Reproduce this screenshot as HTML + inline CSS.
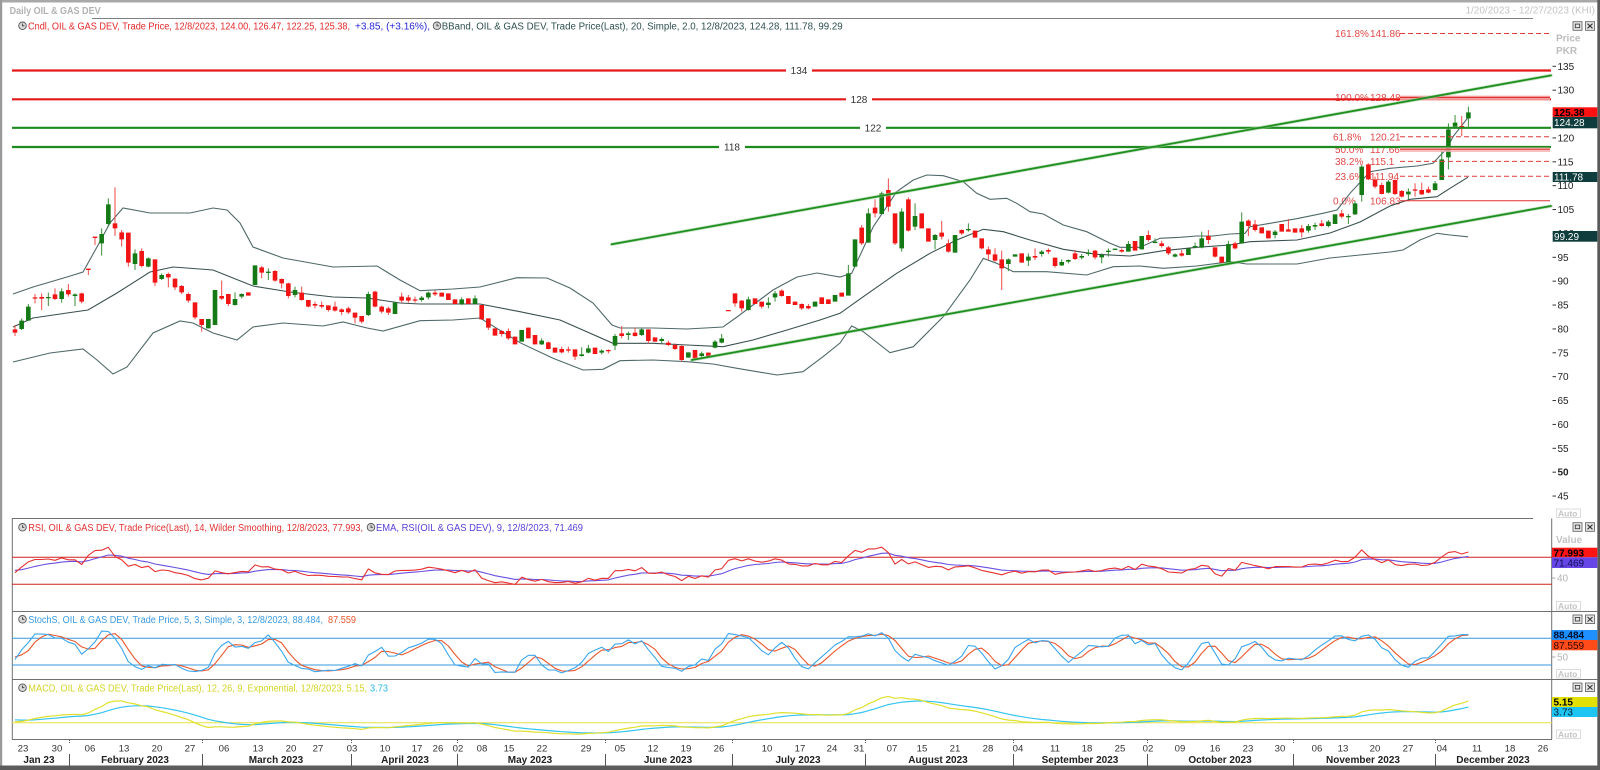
<!DOCTYPE html>
<html><head><meta charset="utf-8">
<style>
html,body{margin:0;padding:0;background:#fff;overflow:hidden;}
svg{display:block;font-family:"Liberation Sans",Arial,sans-serif;}
</style></head>
<body>
<svg id="s" width="1600" height="770" viewBox="0 0 1600 770" xmlns="http://www.w3.org/2000/svg">
<defs>
<clipPath id="cm"><rect x="12" y="19" width="1540" height="499"/></clipPath>
<clipPath id="cr"><rect x="12" y="519" width="1540" height="91"/></clipPath>
<clipPath id="cs"><rect x="12" y="612" width="1540" height="66"/></clipPath>
<clipPath id="cd"><rect x="12" y="680" width="1540" height="58"/></clipPath>
</defs>
<rect width="1600" height="770" fill="#fff"/>

<!-- frame -->
<rect x="0" y="0" width="1600" height="2.5" fill="#a8a8a8"/>
<rect x="0" y="0" width="2.2" height="770" fill="#9a9a9a"/>
<rect x="1597.3" y="0" width="2.7" height="770" fill="#5a5a5a"/>
<rect x="0" y="765.5" width="1600" height="4.5" fill="#5c5c5c"/>

<!-- header -->
<text x="9.6" y="14" font-size="10" font-weight="bold" fill="#b2b2b2" textLength="91" lengthAdjust="spacingAndGlyphs">Daily OIL &amp; GAS DEV</text>
<text x="1595" y="13.5" font-size="10" fill="#c4c4c4" text-anchor="end">1/20/2023 - 12/27/2023 (KHI)</text>
<line x1="92" y1="18.5" x2="1533" y2="18.5" stroke="#808080" stroke-width="1"/>

<!-- main legend -->
<g>
<circle cx="22.5" cy="25.8" r="3.8" fill="#d8d8d8" stroke="#555" stroke-width="0.9"/>
<path d="M22.5 23.6V25.8H24.3" stroke="#333" stroke-width="0.8" fill="none"/>
<text x="28" y="29.5" font-size="10" fill="#e62828" textLength="322" lengthAdjust="spacingAndGlyphs">Cndl, OIL &amp; GAS DEV, Trade Price,  12/8/2023, 124.00, 126.47, 122.25, 125.38,</text>
<text x="355" y="29.5" font-size="10" fill="#2828d8" textLength="75" lengthAdjust="spacingAndGlyphs">+3.85, (+3.16%),</text>
<circle cx="437" cy="25.8" r="3.8" fill="#d8d8d8" stroke="#555" stroke-width="0.9"/>
<path d="M437 23.6V25.8H438.8" stroke="#333" stroke-width="0.8" fill="none"/>
<text x="441.7" y="29.5" font-size="10" fill="#2f4f4f" textLength="401" lengthAdjust="spacingAndGlyphs">BBand, OIL &amp; GAS DEV, Trade Price(Last),  20, Simple, 2.0, 12/8/2023, 124.28, 111.78, 99.29</text>
</g>

<!-- fib labels -->
<g font-size="10" fill="#e04848">
<text x="1335" y="37">161.8%</text><text x="1370" y="37">141.86</text>
<text x="1335" y="101">100.0%</text><text x="1370" y="101">128.48</text>
<text x="1333" y="140.5">61.8%</text><text x="1370" y="140.5">120.21</text>
<text x="1335" y="152.8">50.0%</text><text x="1370" y="152.8">117.66</text>
<text x="1335" y="165">38.2%</text><text x="1370" y="165">115.1</text>
<text x="1335" y="180">23.6%</text><text x="1370" y="180">111.94</text>
<text x="1333" y="204.5">0.0%</text><text x="1370" y="204.5">106.83</text>
</g>

<!-- Bollinger bands -->
<g fill="none" stroke="#4f6868" stroke-width="1.1" clip-path="url(#cm)">
<polyline points="13,294 33,287 67,277 83,272 97,247 110,223 123,208 150,213 190,213 213,208 227,210 240,223 253,247 283,258 333,267 377,266 400,280 420,290.7 453,289 480,287 517,277.7 547,278 570,288 593,303 612,325 620,328 653,328 687,329 723,327 737,317 753,305 773,290 797,277 817,273 840,277 851.7,273.3 873.3,226.7 896.7,191.7 913.3,180 926.7,175 943.3,175.7 963.3,181.7 976.7,193.3 990,199.3 1006.7,198.3 1016.7,203.3 1030,211.7 1043.3,214 1063.3,225 1086.7,231.7 1110,243.3 1120,247.3 1140,247.3 1160,238.3 1180,237.3 1196.7,236 1213.3,236 1230,234 1245,233.3 1250,226.7 1270,223.3 1296.7,218.7 1323,213.3 1337,210 1350,193.3 1370,171.7 1390,168.3 1417,166 1433,163.3 1447,148.3 1453,136.7 1468,117.5"/>
<polyline stroke="#3a5050" points="13,327 33,318 67,313 88,310 117,293 150,272 173,267 213,270 253,286 290,292 333,297 367,298 400,303 420,304 480,304 520,311.7 560,320 613,343.3 653,343.3 687,345 723,346.7 753,340 787,330 820,320 840,313.3 863.3,296.7 896.7,273.3 930,253.3 956.7,240 983.3,229.3 1003.3,231.7 1030,240 1063.3,249.3 1096.7,254.3 1130,256 1163.3,250.7 1196.7,247.3 1230,245 1250,241.7 1297,240 1330,233 1360,222 1390,206 1410,199.3 1437,196.7 1450,188.3 1468,177.2"/>
<polyline points="13,362 50,353 83,349 97,360 113,374 127,367 153,333 180,321 193,323 213,333 237,340 253,327 283,323 323,326 343,322 367,328 383,331 420,320.7 453,320 480,318 520,342.7 553,358.3 583,370 603,369.3 620,360.7 653,360 687,361.7 713,364 737,368.3 777,375 803,371.7 823,356.7 840,343 851.7,326 863.3,331.7 890,352.7 913.3,346.7 943.3,316.7 970,280 983.3,258.3 996.7,263.3 1013.3,271.7 1046.7,271.7 1086.7,275 1113.3,266.7 1140,266 1163.3,268.3 1196.7,266 1230,261.7 1246.7,264 1297,264 1330,258 1360,255 1390,252 1403,250 1420,240 1437,233.3 1450,235 1468,236.8"/>
</g>

<g id="candles" clip-path="url(#cm)"></g>

<!-- horizontal levels -->
<g stroke-width="2.2" fill="none">
<path d="M12 70.5H786M812 70.5H1551" stroke="#e41a1a"/>
<path d="M12 99.3H846M872 99.3H1551" stroke="#e41a1a"/>
<path d="M12 127.8H860M886 127.8H1551" stroke="#1f8a1f"/>
<path d="M12 147H719M745 147H1551" stroke="#1f8a1f"/>
</g>
<g font-size="10" fill="#333" text-anchor="middle">
<text x="799" y="74">134</text>
<text x="859" y="102.8">128</text>
<text x="873" y="131.3">122</text>
<text x="732" y="150.5">118</text>
</g>

<!-- fib lines -->
<g fill="none">
<rect x="1400" y="95.5" width="150" height="5" fill="#f7b0b0" opacity="0.8"/>
<rect x="1400" y="147.5" width="150" height="4.5" fill="#f7b0b0" opacity="0.8"/>
<line x1="1400" y1="97.4" x2="1550" y2="97.4" stroke="#e03030" stroke-width="1.2"/>
<line x1="1400" y1="149.2" x2="1550" y2="149.2" stroke="#e03030" stroke-width="1"/>
<g stroke="#e03a3a" stroke-width="1" stroke-dasharray="5,3">
<line x1="1400" y1="33.5" x2="1550" y2="33.5"/>
<line x1="1400" y1="136.8" x2="1550" y2="136.8"/>
<line x1="1400" y1="161.4" x2="1550" y2="161.4"/>
<line x1="1400" y1="176.3" x2="1550" y2="176.3"/>
</g>
<line x1="1400" y1="200.8" x2="1550" y2="200.8" stroke="#e03030" stroke-width="1"/>
</g>

<!-- channel lines -->
<g fill="none" stroke-linecap="round">
<line x1="611.7" y1="244.3" x2="1551" y2="75.4" stroke="#9fd09f" stroke-width="3.4" opacity="0.6"/>
<line x1="611.7" y1="244.3" x2="1551" y2="75.4" stroke="#1f8f1f" stroke-width="1.8"/>
<line x1="691.7" y1="360" x2="1551" y2="206" stroke="#9fd09f" stroke-width="3.4" opacity="0.6"/>
<line x1="691.7" y1="360" x2="1551" y2="206" stroke="#1f8f1f" stroke-width="1.8"/>
</g>

<!-- main right axis -->
<g id="ticks" font-size="10" fill="#222"></g>
<text x="1556" y="41.5" font-size="10" font-weight="bold" fill="#bdbdbd">Price</text>
<text x="1556" y="54" font-size="10" font-weight="bold" fill="#bdbdbd">PKR</text>

<rect x="1552.7" y="107.3" width="44.6" height="9.6" fill="#ff1010"/>
<text x="1554" y="115.8" font-size="10" font-weight="bold" fill="#000">125.38</text>
<rect x="1552.7" y="116.9" width="44.6" height="11.4" fill="#0f3c3c"/>
<text x="1554" y="126" font-size="10" fill="#fff">124.28</text>
<rect x="1552.7" y="172" width="44.6" height="10" fill="#0f3c3c"/>
<text x="1554" y="180.7" font-size="10" fill="#fff">111.78</text>
<rect x="1552.7" y="231" width="44.6" height="10.7" fill="#0f3c3c"/>
<text x="1554" y="240.2" font-size="10" fill="#fff">99.29</text>

<!-- panel icons -->
<g id="icons"></g>

<!-- Auto boxes -->
<g font-size="8.5" font-weight="bold" fill="#c4c4c4">
<rect x="1556.5" y="509" width="24" height="8.6" fill="#fff" stroke="#d4d4d4" stroke-width="0.8"/><text x="1558" y="516.4">Auto</text>
<rect x="1556.5" y="601.4" width="24" height="8.6" fill="#fff" stroke="#d4d4d4" stroke-width="0.8"/><text x="1558" y="608.8">Auto</text>
<rect x="1556.5" y="669.4" width="24" height="8.6" fill="#fff" stroke="#d4d4d4" stroke-width="0.8"/><text x="1558" y="676.8">Auto</text>
<rect x="1556.5" y="730" width="24" height="8.6" fill="#fff" stroke="#d4d4d4" stroke-width="0.8"/><text x="1558" y="737.4">Auto</text>
</g>

<!-- panel borders -->
<g stroke="#707070" stroke-width="1" fill="none">
<line x1="12" y1="518.5" x2="1533" y2="518.5"/>
<line x1="12" y1="611.5" x2="1598" y2="611.5"/>
<line x1="12" y1="679.5" x2="1598" y2="679.5"/>
<line x1="12" y1="739.5" x2="1552" y2="739.5"/>
<line x1="12.3" y1="518.5" x2="12.3" y2="739.5"/>
<line x1="1551.7" y1="518.5" x2="1551.7" y2="739.5"/>
</g>

<!-- indicator level lines -->
<g stroke-width="1" fill="none">
<line x1="12" y1="557.3" x2="1552" y2="557.3" stroke="#d42020"/>
<line x1="12" y1="584.3" x2="1552" y2="584.3" stroke="#d42020"/>
<line x1="12" y1="638.3" x2="1552" y2="638.3" stroke="#3399dd"/>
<line x1="12" y1="665" x2="1552" y2="665" stroke="#3399dd"/>
<line x1="12" y1="722.7" x2="1552" y2="722.7" stroke="#e6e040"/>
</g>
<g id="ind"></g>

<!-- indicator legends -->
<g font-size="10">
<circle cx="22.5" cy="527.3" r="3.8" fill="#d8d8d8" stroke="#555" stroke-width="0.9"/>
<path d="M22.5 525.1V527.3H24.3" stroke="#333" stroke-width="0.8" fill="none"/>
<text x="28.3" y="531" fill="#e23030" textLength="334.7" lengthAdjust="spacingAndGlyphs">RSI, OIL &amp; GAS DEV, Trade Price(Last),  14, Wilder Smoothing, 12/8/2023, 77.993,</text>
<circle cx="371" cy="527.3" r="3.8" fill="#d8d8d8" stroke="#555" stroke-width="0.9"/>
<path d="M371 525.1V527.3H372.8" stroke="#333" stroke-width="0.8" fill="none"/>
<text x="376" y="531" fill="#5a40d8" textLength="207" lengthAdjust="spacingAndGlyphs">EMA, RSI(OIL &amp; GAS DEV),  9,  12/8/2023, 71.469</text>

<circle cx="22.5" cy="619.3" r="3.8" fill="#d8d8d8" stroke="#555" stroke-width="0.9"/>
<path d="M22.5 617.1V619.3H24.3" stroke="#333" stroke-width="0.8" fill="none"/>
<text x="28.3" y="623" fill="#3a9ae2" textLength="294.7" lengthAdjust="spacingAndGlyphs">StochS, OIL &amp; GAS DEV, Trade Price,  5, 3, Simple, 3, 12/8/2023, 88.484,</text>
<text x="328" y="623" fill="#e8572e" textLength="28" lengthAdjust="spacingAndGlyphs">87.559</text>

<circle cx="22.5" cy="687.7" r="3.8" fill="#d8d8d8" stroke="#555" stroke-width="0.9"/>
<path d="M22.5 685.5V687.7H24.3" stroke="#333" stroke-width="0.8" fill="none"/>
<text x="28.3" y="691.4" fill="#d4d428" textLength="338.7" lengthAdjust="spacingAndGlyphs">MACD, OIL &amp; GAS DEV, Trade Price(Last),  12, 26, 9, Exponential,  12/8/2023, 5.15,</text>
<text x="370" y="691.4" fill="#28b8e8" textLength="18" lengthAdjust="spacingAndGlyphs">3.73</text>
</g>

<!-- indicator right axis -->
<g font-size="10">
<text x="1556" y="542.8" font-weight="bold" fill="#c4c4c4">Value</text>
<line x1="1552" y1="578" x2="1555.5" y2="578" stroke="#aaa"/>
<text x="1557" y="581.5" fill="#b4b4b4">40</text>
<line x1="1552" y1="657" x2="1555.5" y2="657" stroke="#aaa"/>
<text x="1557" y="660.5" fill="#b4b4b4">50</text>

<rect x="1552" y="547.7" width="45.3" height="9.6" fill="#ff1414"/>
<text x="1553.5" y="556.3" font-weight="bold" fill="#000">77.993</text>
<rect x="1552" y="557.3" width="45.3" height="10.7" fill="#6646e6"/>
<text x="1553.5" y="566.3" fill="#101050">71.469</text>

<rect x="1552" y="630" width="45.3" height="10" fill="#1e90ff"/>
<text x="1553.5" y="638.6" font-weight="bold" fill="#001030">88.484</text>
<rect x="1552" y="640" width="45.3" height="10.3" fill="#ff4a1a"/>
<text x="1553.5" y="648.8" fill="#300800">87.559</text>

<rect x="1552" y="697" width="45.3" height="10" fill="#e2e000"/>
<text x="1553.5" y="705.6" font-weight="bold" fill="#000">5.15</text>
<rect x="1552" y="707" width="45.3" height="10" fill="#1ec4f4"/>
<text x="1553.5" y="715.6" fill="#002030">3.73</text>
</g>

<!-- bottom axis -->
<g id="xaxis" font-size="9.6" fill="#333" text-anchor="middle">
<text x="23" y="751.5">23</text><text x="57" y="751.5">30</text>
<text x="90" y="751.5">06</text><text x="124" y="751.5">13</text><text x="157" y="751.5">20</text><text x="190" y="751.5">27</text>
<text x="224" y="751.5">06</text><text x="258" y="751.5">13</text><text x="291" y="751.5">20</text><text x="318" y="751.5">27</text>
<text x="352" y="751.5">03</text><text x="385" y="751.5">10</text><text x="417" y="751.5">17</text><text x="438" y="751.5">26</text>
<text x="458" y="751.5">02</text><text x="482" y="751.5">08</text><text x="509" y="751.5">15</text><text x="542" y="751.5">22</text><text x="586" y="751.5">29</text>
<text x="620" y="751.5">05</text><text x="653" y="751.5">12</text><text x="686" y="751.5">19</text><text x="719" y="751.5">26</text>
<text x="767" y="751.5">10</text><text x="800" y="751.5">17</text><text x="832" y="751.5">24</text><text x="859" y="751.5">31</text>
<text x="892" y="751.5">07</text><text x="922" y="751.5">15</text><text x="955" y="751.5">21</text><text x="988" y="751.5">28</text>
<text x="1018" y="751.5">04</text><text x="1055" y="751.5">11</text><text x="1087" y="751.5">18</text><text x="1120" y="751.5">25</text>
<text x="1148" y="751.5">02</text><text x="1180" y="751.5">09</text><text x="1215" y="751.5">16</text><text x="1248" y="751.5">23</text><text x="1280" y="751.5">30</text>
<text x="1317" y="751.5">06</text><text x="1343" y="751.5">13</text><text x="1375" y="751.5">20</text><text x="1408" y="751.5">27</text>
<text x="1442" y="751.5">04</text><text x="1477" y="751.5">11</text><text x="1510" y="751.5">18</text><text x="1543" y="751.5">26</text>
</g>
<g font-size="10" font-weight="bold" fill="#222" text-anchor="middle">
<text x="39" y="763">Jan 23</text>
<text x="135" y="763">February 2023</text>
<text x="276" y="763">March 2023</text>
<text x="405" y="763">April 2023</text>
<text x="530" y="763">May 2023</text>
<text x="668" y="763">June 2023</text>
<text x="798" y="763">July 2023</text>
<text x="938" y="763">August 2023</text>
<text x="1080" y="763">September 2023</text>
<text x="1220" y="763">October 2023</text>
<text x="1363" y="763">November 2023</text>
<text x="1493" y="763">December 2023</text>
</g>
<g id="msep" stroke="#555" stroke-width="1"></g>
</svg>

<script>
(function(){
var NS="http://www.w3.org/2000/svg";
function el(parent,tag,attrs){var e=document.createElementNS(NS,tag);for(var k in attrs)e.setAttribute(k,attrs[k]);parent.appendChild(e);return e;}
var A="r508,518,495,528 g482,507,475,510 g440,482,432,482 r412,416,402,430 r411,416,400,450 g411,413,398,438 r403,417,385,420 g394,417,385,428 r390,403,372,410 g403,408,400,438 r400,425,398,430 r326,329,326,345 r230,233,230,255 g222,250,205,287 g133,192,115,200 r190,205,82,228 r217,238,210,260 r218,308,218,320 g280,312,268,330 r273,318,265,322 g295,320,292,322 r298,368,298,378 g345,357,340,360 r342,352,338,382 r356,382,356,390 r378,397,375,402 r402,422,398,428 r427,472,427,478 r477,495,477,515 g477,505,477,505 g390,495,390,495 r408,416,362,420 r402,432,402,438 g417,435,397,437 g402,410,400,415 r397,407,397,407 g316,375,316,375 r322,338,318,355 g335,338,325,360 r333,362,330,365 r357,370,355,385 r370,408,368,415 g390,405,380,412 r398,420,380,422 r420,440,420,442 r432,437,425,445 r435,440,425,445 r436,450,436,455 r440,452,425,455 r448,456,445,465 r445,457,440,462 r458,473,458,490 r468,485,468,490 g402,465,395,468 r395,440,392,442 r440,455,437,460 r445,458,440,465 g428,462,425,462 r410,422,398,428 r412,422,405,428 r418,420,410,428";
var B="g413,420,408,425 g398,412,395,418 r398,403,390,408 r398,410,398,410 r400,420,400,420 r418,432,418,432 g418,433,412,435 r415,432,415,432 g415,432,406,432 r435,478,435,480 r475,503,475,510 r505,527,505,527 r513,522,510,530 r513,535,505,540 r530,553,530,553 g510,545,510,545 r503,535,503,535 r525,553,525,553 g542,553,535,555 r547,567,545,568 r563,578,563,578 r567,577,560,580 r568,572,560,578 r568,590,568,600 g583,588,562,590 g565,578,555,580 r563,582,563,582 g572,578,568,583 r570,573,568,580 g528,557,522,570 r520,528,498,535 g520,525,515,540 r518,528,502,530 g508,525,505,528 r508,543,508,550 r532,545,532,545 g537,543,532,550 r548,555,542,558 r555,567,550,570 r558,600,555,605 g577,593,577,593 r570,595,570,595 g580,588,575,592 r578,590,578,590 g545,563,540,565 g535,548,522,550 r450,452,450,452 r400,430,400,440 r422,445,420,455 g418,450,410,452 r415,432,415,432 r425,440,425,445 g428,435,412,445 g400,412,393,425 r392,408,388,410 r408,432,408,432 r425,435,425,435 r432,445,430,450 r438,445,432,448 g425,440,425,440 r412,432,412,432 r418,432,418,432 g405,425,405,425";
var C="r398,410,398,410 g340,407,315,407 g238,320,238,320 r203,250,195,255 g160,248,145,248 r143,160,118,172 g100,162,95,162 r90,140,55,155 r160,250,160,255 g155,265,145,275 r118,212,112,215 g168,200,130,210 r160,205,160,205 r205,245,205,245 g225,240,222,268 r218,230,183,238 r250,275,238,278 g225,278,225,278 r210,220,208,225 g207,210,190,215 r212,233,212,233 r235,265,235,268 r268,283,260,300 r283,302,265,305 r298,325,272,390 g298,312,295,333 g283,290,283,290 r280,308,280,308 g290,302,280,318 r288,293,265,300 g275,282,270,290 r270,275,265,282 r293,318,293,323 g306,316,298,318 g300,305,298,310 r280,297,270,300 g288,293,282,298 g278,282,268,288 r272,292,270,298 g285,292,280,310 g272,274,265,290 g266,270,266,270 r270,275,265,278 g252,275,243,275 r243,272,243,272 g228,268,228,268 r225,240,212,245 g245,248,235,250 r250,258,242,263 r262,280,258,285 g283,290,280,292 r280,287,270,290 g265,285,265,285 g258,262,248,265 g235,263,215,265 r228,240,210,252 r262,290,262,293 r290,308,290,308 g252,308,243,308 r250,265,245,268 g185,250,157,250 r182,198,178,228 r193,210,180,215 r202,220,202,220 r212,235,212,235 g215,225,210,235 r192,215,192,215 r208,215,177,215 r205,218,205,218";
var D="r685,697,675,712 g678,692,672,698 g675,680,668,690 r670,678,660,680 g665,678,660,682 g643,672,643,672 r640,650,630,655 g648,650,642,672 g610,643,603,645 g500,585,495,605 r493,538,490,540 r540,560,530,565 r555,582,548,583 g545,578,540,580 r540,582,538,585 r573,590,570,592 g575,583,565,598 r568,572,550,590 r570,583,548,585 r568,578,560,580 g550,570,543,572 g478,540,440,540 g388,472,370,508 g368,380,345,380 r378,385,348,408 g337,355,320,380";
function parse(s,off){return s.trim().split(/\s+/).map(function(t){var c=t[0];var a=t.slice(1).split(',').map(Number);return {c:c,bt:a[0]/3+off,bb:a[1]/3+off,wt:a[2]/3+off,wb:a[3]/3+off};});}
var bars=[].concat(parse(A,160),parse(B,160),parse(C,160),parse(D,0));
var N=bars.length;
function X(i){return 15+i*(1468.4-15)/(N-1);}
function P(y){return 95+(257.3-y)/4.775;}

var g=document.getElementById('candles');
var dG='',dR='',wG='',wR='';
bars.forEach(function(b,i){
  var x=X(i);
  var h=Math.max(1.3,b.bb-b.bt);
  var wk='M'+x.toFixed(2)+' '+b.wt.toFixed(2)+'V'+b.wb.toFixed(2);
  var bd='M'+(x-2.3).toFixed(2)+' '+b.bt.toFixed(2)+'h4.6v'+h.toFixed(2)+'h-4.6z';
  if(b.c=='g'){wG+=wk;dG+=bd;}else{wR+=wk;dR+=bd;}
});
el(g,'path',{d:wG,stroke:'#3a8f3a','stroke-width':'1',fill:'none'});
el(g,'path',{d:wR,stroke:'#f04a4a','stroke-width':'1',fill:'none'});
el(g,'path',{d:dG,fill:'#157a15'});
el(g,'path',{d:dR,fill:'#f01414'});

var tk=document.getElementById('ticks');
for(var v=45;v<=135;v+=5){
  var y=257.3-(v-95)*4.775;
  el(tk,'line',{x1:1552.5,y1:y,x2:1556,y2:y,stroke:'#333','stroke-width':'1'});
  var t=el(tk,'text',{x:1557.5,y:(y+3.5).toFixed(1)});
  if(v==50)t.setAttribute('font-weight','bold');
  t.textContent=String(v);
}

var ms=document.getElementById('msep');
[69,202,351,457,605,732,865,1013,1147,1293,1435].forEach(function(x){
  el(ms,'line',{x1:x+0.5,y1:754,x2:x+0.5,y2:766});
  el(ms,'line',{x1:x+0.5,y1:740,x2:x+0.5,y2:744,'stroke-dasharray':'1,1'});
});

var ic=document.getElementById('icons');
[21.7,522.7,615,683].forEach(function(y){
  el(ic,'rect',{x:1573,y:y,width:9,height:8.6,fill:'#e4e4e4',stroke:'#5a5a5a','stroke-width':'0.8'});
  el(ic,'rect',{x:1575.3,y:y+2.4,width:4.4,height:3.6,fill:'none',stroke:'#333','stroke-width':'0.8'});
  el(ic,'rect',{x:1585.5,y:y,width:9,height:8.6,fill:'#e4e4e4',stroke:'#5a5a5a','stroke-width':'0.8'});
  el(ic,'path',{d:'M1587.5 '+(y+2)+'l5 4.6M1592.5 '+(y+2)+'l-5 4.6',stroke:'#333','stroke-width':'1.1'});
});

var cl=[],hi=[],lo=[];
var W=60;
for(var i=0;i<W;i++){
  var b0=i<=48?71+11.5*i/48:82.5-(i-48)*0.3;
  var z=((i*7)%5-2)*0.45;
  var c=b0+z;cl.push(c);hi.push(c+0.9);lo.push(c-0.9);
}
bars.forEach(function(b){var c=b.c=='g'?P(b.bt):P(b.bb);cl.push(c);hi.push(P(b.wt));lo.push(P(b.wb));});
var n=cl.length;
var rsi=new Array(n).fill(null),ag=0,al=0;
for(var i=1;i<=14;i++){var d=cl[i]-cl[i-1];if(d>0)ag+=d;else al-=d;}
ag/=14;al/=14;rsi[14]=100-100/(1+ag/Math.max(al,1e-9));
for(var i=15;i<n;i++){var d=cl[i]-cl[i-1];ag=(ag*13+Math.max(d,0))/14;al=(al*13+Math.max(-d,0))/14;rsi[i]=al==0?100:100-100/(1+ag/al);}
function ema(arr,p,start){var k=2/(p+1),out=new Array(arr.length).fill(null),e=arr[start];out[start]=e;for(var i=start+1;i<arr.length;i++){e=arr[i]*k+e*(1-k);out[i]=e;}return out;}
var rsiE=ema(rsi,9,14);
var rk=new Array(n).fill(null),K=new Array(n).fill(null),Dd=new Array(n).fill(null);
for(var i=4;i<n;i++){var ll=1e9,hh=-1e9;for(var j=i-4;j<=i;j++){ll=Math.min(ll,lo[j]);hh=Math.max(hh,hi[j]);}rk[i]=hh>ll?(cl[i]-ll)/(hh-ll)*100:50;}
for(var i=6;i<n;i++)K[i]=(rk[i]+rk[i-1]+rk[i-2])/3;
for(var i=8;i<n;i++)Dd[i]=(K[i]+K[i-1]+K[i-2])/3;
var e12=ema(cl,12,0),e26=ema(cl,26,0),m=cl.map(function(_,i){return e12[i]-e26[i];}),sig=ema(m,9,0);
var ind=document.getElementById('ind');
function pl(vals,fy,color,w,clip){var d='';for(var i=W;i<n;i++){if(vals[i]==null)continue;var x=X(i-W),y=fy(vals[i]);d+=(d?'L':'M')+x.toFixed(1)+','+y.toFixed(1);}el(ind,'path',{d:d,fill:'none',stroke:color,'stroke-width':w,'clip-path':'url(#'+clip+')','stroke-linejoin':'round'});}
function fr(v){return 557.3+(70-v)*0.675;}
function fs(v){return 673.9-v*0.445;}
function fm(v){return 722.7-v*4.2;}
pl(rsiE,fr,'#6a50e0',1.1,'cr');
pl(rsi,fr,'#e63030',1.1,'cr');
pl(Dd,fs,'#e8572e',1.1,'cs');
pl(K,fs,'#3aa6ec',1.1,'cs');
pl(sig,fm,'#35c4f0',1.2,'cd');
pl(m,fm,'#e0e030',1.2,'cd');
})();
</script>
</body></html>
